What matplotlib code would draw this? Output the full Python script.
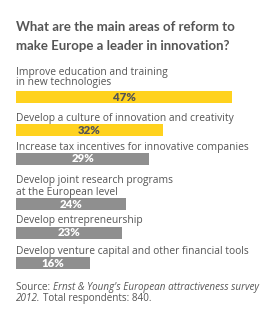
import matplotlib
matplotlib.use("Agg")
import matplotlib.pyplot as plt

categories = [
    "Improve education and training\nin new technologies",
    "Develop a culture of innovation and creativity",
    "Increase tax incentives for innovative companies",
    "Develop joint research programs\nat the European level",
    "Develop entrepreneurship",
    "Develop venture capital and other financial tools",
]
values = [47, 32, 29, 24, 23, 16]
highlight = [True, True, False, False, False, False]
title = ["What are the main areas of reform to", "make Europe a leader in innovation?"]

YELLOW = "#FFD21E"
GRAY = "#8F8F8F"
TEXT = "#555555"
TFONT = "Lato"
LFONT = "Open Sans"

W, H = 280, 320
fig = plt.figure(figsize=(W / 100, H / 100), dpi=100)
fig.patch.set_facecolor("white")
ax = fig.add_axes([0, 0, 1, 1])
scale = 4.6  # px per percent
x0 = 16
ax.set_xlim(-x0 / scale, (W - x0) / scale)
ax.set_ylim(H, 0)
ax.axis("off")

# layout (pixel rows)
bar_centers = [97, 129.5, 158.5, 203.5, 232.5, 263]
label_baselines = [[75, 85.5], [120.5], [150], [183, 194.5], [223.5], [254]]
bar_h = 12

for i, line in enumerate(title):
    ax.text(0, 31 + 18.5 * i, line, fontsize=9.5, fontweight="bold", color=TEXT,
            family=TFONT, va="baseline", ha="left")

for cat, v, hl, yc, bls in zip(categories, values, highlight, bar_centers, label_baselines):
    ax.barh(yc, v, height=bar_h, left=0, color=YELLOW if hl else GRAY)
    for line, bl in zip(cat.split("\n"), bls):
        ax.text(0, bl, line, fontsize=7.4, color=TEXT, family=LFONT,
                va="baseline", ha="left")
    ax.text(v / 2, yc + 0.5, f"{v}%", fontsize=8.2, fontweight="heavy",
            color=TEXT if hl else "white", family=TFONT, va="center", ha="center")

# source with mixed styles
fig.canvas.draw()
r = fig.canvas.get_renderer()
lines = [
    (290, [("Source: ", "normal"), ("Ernst & Young's European attractiveness survey", "italic")]),
    (301, [("2012.", "italic"), ("Total respondents: 840.", "normal")]),
]
for ypx, parts in lines:
    xpx = x0
    for k, (s, st) in enumerate(parts):
        t = fig.text(xpx / W, 1 - ypx / H, s, fontsize=7.1, style=st, color=TEXT,
                     family=LFONT, va="baseline", ha="left")
        bb = t.get_window_extent(renderer=r)
        xpx += bb.width + (2.5 if (ypx == 301 and k == 0) else 0)

fig.savefig("out.png", dpi=100)
